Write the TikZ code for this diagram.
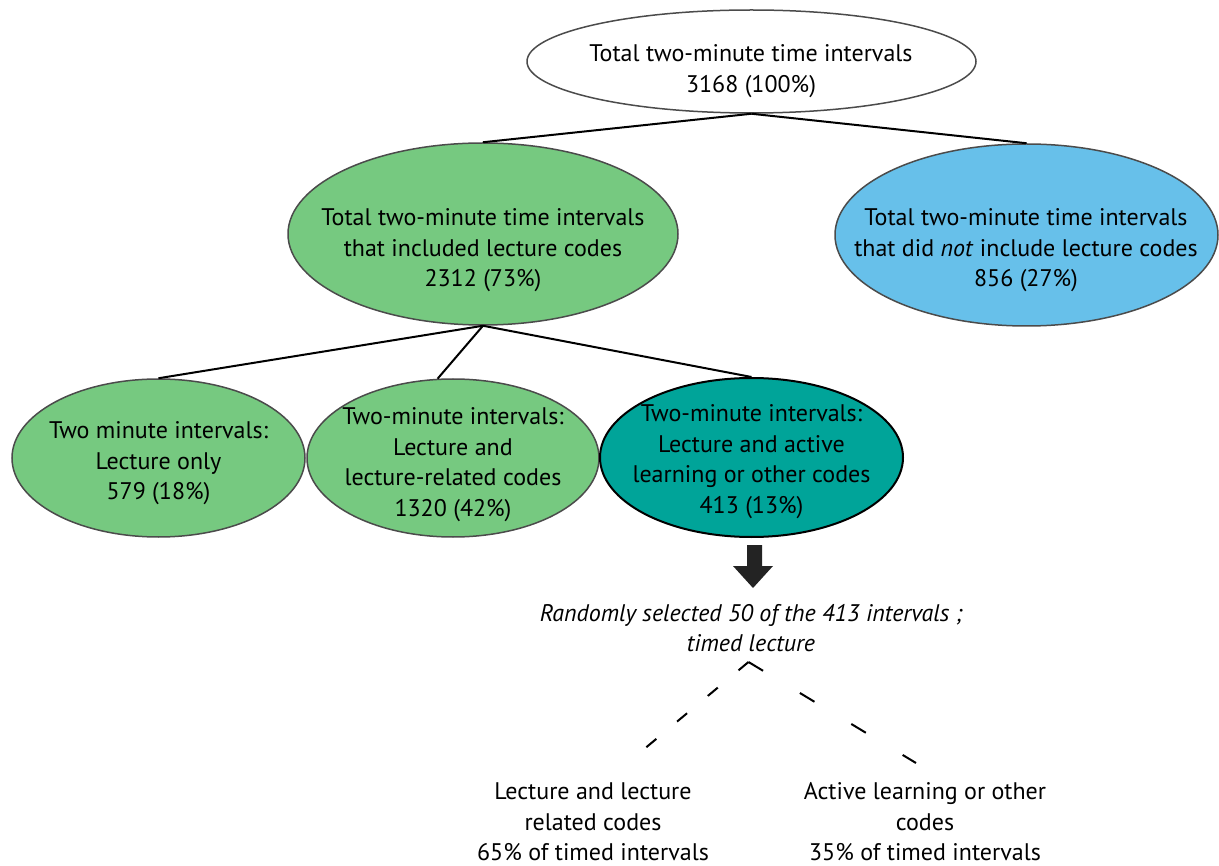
\documentclass[tikz,border=0pt]{standalone}
\usepackage{fontspec}
\setmainfont{PT Sans}
\usetikzlibrary{shapes.geometric}
\definecolor{lgreen}{RGB}{118,201,128}
\definecolor{lblue}{RGB}{103,192,234}
\definecolor{tealc}{RGB}{0,164,153}
\definecolor{rim}{RGB}{75,75,75}
\definecolor{arrowc}{RGB}{35,35,35}
\begin{document}
\begin{tikzpicture}[x=1pt,y=-1pt,
  ell/.style={ellipse, draw=rim, line width=1.5pt, inner sep=0pt},
  txt/.style={font=\fontsize{24}{30.5}\selectfont, align=center, inner sep=0pt},
  link/.style={line width=2pt, black},
  dlink/.style={line width=2pt, black}]
\useasboundingbox (0,0) rectangle (1219,866);

% ellipses
\node[ell, fill=white, minimum width=449, minimum height=103] (top) at (751.5,61.5) {};
\node[ell, fill=lgreen, minimum width=390, minimum height=182] (lec) at (483,234) {};
\node[ell, fill=lblue, minimum width=383, minimum height=182] (nolec) at (1026.5,235) {};
\node[ell, fill=lgreen, minimum width=293, minimum height=158] (only) at (158.5,458) {};
\node[ell, fill=lgreen, minimum width=292, minimum height=158] (rel) at (453,458) {};
\node[ell, fill=tealc, draw=black, line width=2pt, minimum width=303, minimum height=159] (act) at (751.5,457.5) {};

% texts
\node[txt] (topt) at (751,71) {Total two-minute time intervals\\3168 (100\%)};
\node[txt] (lect) at (483,250.5) {Total two-minute time intervals\\that included lecture codes\\2312 (73\%)};
\node[txt] (nolect) at (1026,250.5) {Total two-minute time intervals\\that did \textit{not} include lecture codes\\856 (27\%)};
\node[txt] (onlyt) at (158.5,463.5) {Two minute intervals:\\Lecture only\\579 (18\%)};
\node[txt] (relt) at (453,464.5) {Two-minute intervals:\\Lecture and\\lecture-related codes\\1320 (42\%)};
\node[txt] (actt) at (751.5,461.5) {Two-minute intervals:\\Lecture and active\\learning or other codes\\413 (13\%)};
\node[txt, font=\fontsize{24}{30.5}\selectfont\itshape] (rand) at (751,628) {Randomly selected 50 of the 413 intervals ;\\timed lecture};
\node[txt] (lrc) at (593,822) {Lecture and lecture\\related codes\\65\% of timed intervals};
\node[txt] (alc) at (925,822) {Active learning or other\\codes\\35\% of timed intervals};

% connectors
\draw[link] (top.south) -- (lec.north);
\draw[link] (top.south) -- (nolec.north);
\draw[link] (lec.south) -- (only.north);
\draw[link] (lec.south) -- (rel.101);
\draw[link] (lec.south) -- (act.north);

% block arrow
\fill[arrowc] (747,545) -- (762,545) -- (762,566) -- (773,566) -- (753,588) -- (733,566) -- (747,566) -- cycle;

% dashed split
\coordinate (apex) at (748.5,662);
\coordinate (lend) at (643,750);
\coordinate (rend) at (916,763);
\draw[dlink, dash pattern=on 13pt off 27pt] (apex) -- (lend);
\draw[dlink, dash pattern=on 17pt off 43pt] (apex) -- (rend);
\end{tikzpicture}
\end{document}
